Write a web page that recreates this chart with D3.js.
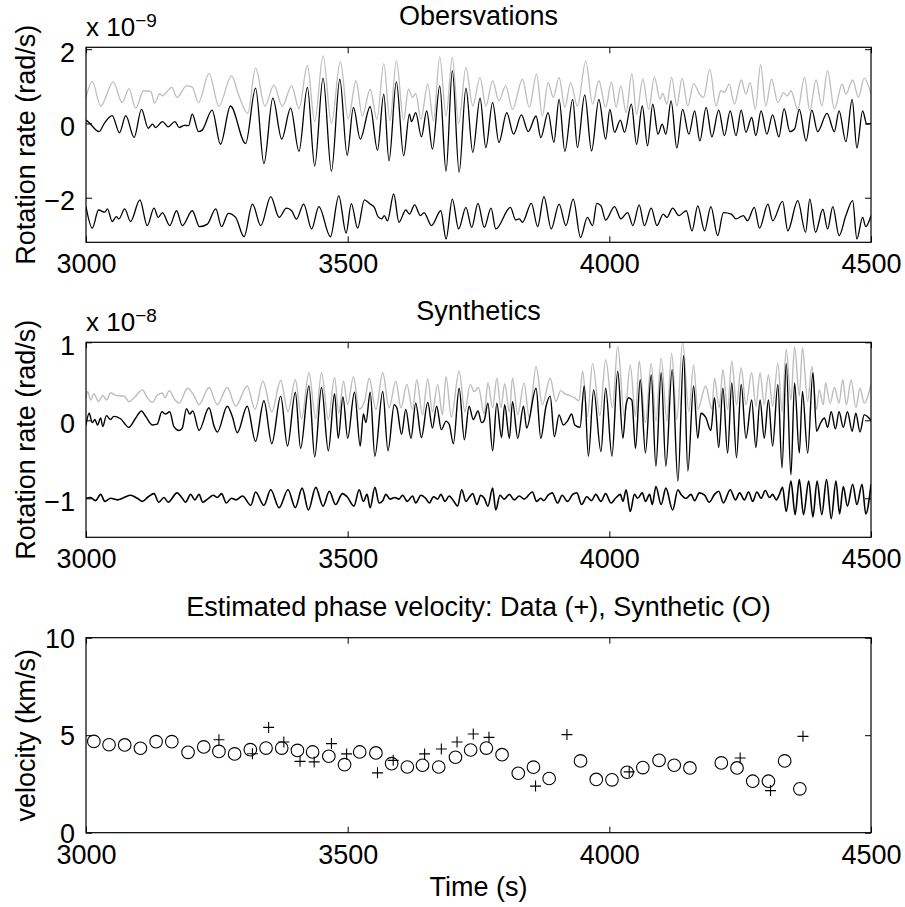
<!DOCTYPE html>
<html><head><meta charset="utf-8">
<script src="https://cdn.jsdelivr.net/npm/d3@7"></script>
<style>
html,body{margin:0;padding:0;background:#fff;}
text{font-family:"Liberation Sans",Arial,Helvetica,sans-serif;fill:#000;}
</style></head>
<body><svg id="chart" width="905" height="907"></svg>
<script>
// ---------- data (time in s, rotation rate in units of the axis multiplier) ----------
const xTicks = [3000, 3500, 4000, 4500];
const obsTicks = [-2, 0, 2];
const synTicks = [-1, 0, 1];
const velTicks = [0, 5, 10];
const titles = ["Obersvations", "Synthetics", "Estimated phase velocity: Data (+), Synthetic (O)"];

const obsGray = [[3000,0.70],[3012,1.13],[3028,0.47],[3052,1.12],[3069,0.56],[3082,0.94],[3095,0.41],[3110,0.88],[3124,0.86],[3131,0.55],[3141,0.80],[3146,0.74],[3151,0.80],[3164,0.97],[3174,0.70],[3192,1.01],[3203,0.98],[3215,0.56],[3235,1.34],[3254,0.47],[3278,1.28],[3292,0.75],[3309,0.27],[3324,1.49],[3342,0.47],[3359,1.03],[3375,0.47],[3393,1.01],[3407,0.40],[3423,1.56],[3437,0.05],[3453,1.82],[3469,0.00],[3486,1.67],[3501,0.12],[3516,1.15],[3528,0.20],[3543,0.92],[3556,0.11],[3569,1.61],[3581,0.07],[3593,1.69],[3607,0.09],[3616,0.92],[3624,0.70],[3630,0.81],[3640,0.11],[3653,1.06],[3664,0.07],[3676,1.79],[3688,0.20],[3700,1.78],[3712,0.00],[3726,1.51],[3739,0.47],[3753,1.24],[3764,0.47],[3777,1.15],[3789,0.61],[3802,1.01],[3815,0.38],[3834,1.19],[3847,0.43],[3861,1.33],[3872,0.20],[3883,1.10],[3893,0.70],[3904,1.24],[3915,0.43],[3926,1.10],[3939,0.47],[3955,1.67],[3968,0.52],[3980,1.15],[3993,0.43],[4004,1.12],[4013,0.43],[4022,1.01],[4032,0.29],[4043,1.34],[4052,0.25],[4064,1.19],[4075,0.38],[4086,1.24],[4097,0.65],[4102,0.81],[4110,0.52],[4119,1.24],[4129,0.47],[4139,1.22],[4150,0.47],[4161,1.07],[4172,0.80],[4180,0.70],[4192,1.46],[4204,0.47],[4213,0.88],[4220,0.84],[4229,1.06],[4239,0.52],[4252,1.17],[4261,0.79],[4269,1.10],[4279,0.38],[4289,1.58],[4299,0.47],[4310,1.19],[4322,0.56],[4333,0.83],[4340,0.74],[4347,0.88],[4360,0.38],[4373,1.24],[4383,0.34],[4395,1.17],[4406,0.47],[4417,1.42],[4430,0.38],[4445,1.06],[4452,0.79],[4465,1.17],[4476,0.70],[4487,1.22],[4500,0.79]];

const obsMid = [[3000,0.09],[3006,0.02],[3025,-0.22],[3035,0.00],[3050,0.21],[3064,-0.25],[3076,0.21],[3092,-0.38],[3106,0.38],[3119,-0.13],[3127,-0.02],[3133,-0.11],[3146,0.05],[3157,-0.09],[3170,0.05],[3178,-0.11],[3188,-0.05],[3196,-0.06],[3203,0.25],[3215,-0.22],[3222,-0.18],[3241,0.36],[3257,-0.56],[3276,0.47],[3305,-0.54],[3324,0.95],[3340,-1.08],[3357,0.68],[3374,-0.42],[3391,0.41],[3407,-0.75],[3423,0.97],[3437,-1.14],[3453,1.22],[3469,-1.29],[3485,1.19],[3499,-0.86],[3511,0.43],[3524,-0.42],[3543,0.45],[3557,-0.72],[3569,0.79],[3579,-1.01],[3593,1.12],[3607,-0.87],[3618,0.25],[3622,0.05],[3630,0.29],[3641,-0.36],[3651,0.34],[3662,-0.69],[3676,1.01],[3688,-1.29],[3700,1.42],[3713,-1.32],[3726,0.95],[3739,-0.78],[3753,0.68],[3764,-0.65],[3777,0.56],[3789,-0.51],[3804,0.29],[3817,-0.29],[3832,0.23],[3845,-0.22],[3860,0.20],[3869,-0.38],[3883,0.29],[3894,-0.51],[3904,0.65],[3915,-0.75],[3930,0.65],[3939,-0.65],[3953,0.77],[3966,-0.74],[3980,0.65],[3993,-0.42],[4001,0.38],[4010,-0.24],[4021,0.09],[4029,-0.24],[4042,0.52],[4052,-0.56],[4063,0.47],[4073,-0.60],[4083,0.52],[4093,-0.29],[4101,-0.02],[4108,-0.29],[4118,0.61],[4129,-0.66],[4140,0.38],[4152,-0.29],[4163,0.34],[4173,-0.47],[4185,0.43],[4196,-0.36],[4209,0.36],[4220,-0.33],[4231,0.34],[4242,-0.33],[4252,0.36],[4261,-0.24],[4272,0.16],[4280,-0.33],[4290,0.34],[4301,-0.29],[4312,0.23],[4324,-0.36],[4334,0.40],[4345,-0.22],[4354,-0.15],[4363,0.38],[4376,-0.47],[4387,0.36],[4398,-0.22],[4416,0.27],[4430,-0.22],[4439,0.34],[4452,-0.49],[4464,0.65],[4473,-0.66],[4484,0.34],[4492,-0.02],[4500,0.00]];

const obsLow = [[3000,-2.24],[3012,-2.82],[3024,-2.33],[3036,-2.39],[3041,-2.30],[3050,-2.64],[3058,-2.51],[3063,-2.57],[3074,-2.30],[3085,-2.64],[3103,-2.06],[3117,-2.75],[3130,-2.28],[3138,-2.53],[3146,-2.40],[3160,-2.75],[3173,-2.35],[3184,-2.75],[3203,-2.35],[3217,-2.78],[3232,-2.71],[3248,-2.30],[3259,-2.78],[3272,-2.42],[3286,-2.53],[3302,-3.05],[3318,-2.17],[3334,-2.75],[3353,-1.97],[3369,-2.53],[3383,-2.28],[3393,-2.35],[3402,-2.58],[3416,-2.17],[3431,-2.84],[3445,-2.24],[3467,-3.05],[3483,-1.95],[3497,-2.95],[3507,-2.16],[3519,-2.82],[3532,-2.06],[3543,-2.17],[3551,-2.26],[3558,-2.51],[3565,-2.57],[3570,-2.48],[3576,-2.62],[3588,-1.90],[3598,-2.66],[3611,-2.33],[3618,-2.44],[3628,-2.19],[3639,-2.48],[3646,-2.40],[3660,-2.75],[3678,-2.35],[3688,-3.11],[3700,-2.04],[3712,-2.84],[3726,-2.26],[3737,-2.80],[3749,-2.15],[3761,-2.80],[3774,-2.28],[3783,-2.84],[3811,-2.26],[3821,-2.60],[3828,-2.57],[3834,-2.66],[3851,-2.15],[3863,-2.78],[3875,-1.97],[3889,-2.84],[3904,-2.17],[3917,-2.75],[3931,-2.04],[3945,-3.07],[3958,-2.53],[3968,-2.75],[3976,-2.15],[3984,-2.22],[3993,-2.60],[4010,-2.24],[4022,-2.57],[4035,-2.40],[4045,-2.75],[4057,-2.19],[4067,-2.75],[4080,-2.28],[4091,-2.75],[4103,-2.44],[4110,-2.53],[4121,-2.28],[4133,-2.48],[4147,-2.35],[4158,-2.89],[4169,-2.22],[4182,-2.89],[4194,-2.24],[4207,-3.02],[4218,-2.40],[4233,-2.44],[4242,-2.57],[4256,-2.48],[4264,-2.62],[4277,-2.26],[4287,-2.82],[4303,-2.17],[4312,-2.62],[4331,-2.10],[4341,-2.89],[4360,-2.08],[4375,-2.93],[4383,-2.04],[4394,-2.93],[4408,-2.31],[4417,-2.84],[4427,-2.24],[4439,-3.02],[4452,-2.48],[4465,-2.08],[4473,-3.11],[4484,-2.53],[4490,-2.78],[4500,-2.48]];

const synGray = [[3000,0.29],[3003,0.37],[3009,0.26],[3015,0.34],[3024,0.24],[3032,0.32],[3039,0.26],[3047,0.35],[3057,0.32],[3073,0.31],[3082,0.24],[3092,0.29],[3108,0.39],[3117,0.29],[3127,0.23],[3136,0.32],[3146,0.35],[3151,0.29],[3159,0.38],[3170,0.26],[3178,0.22],[3194,0.41],[3206,0.32],[3216,0.20],[3235,0.42],[3251,0.20],[3270,0.42],[3286,0.18],[3308,0.44],[3323,0.14],[3338,0.50],[3355,0.11],[3372,0.51],[3386,0.11],[3400,0.52],[3412,0.02],[3426,0.61],[3439,0.02],[3450,0.61],[3463,0.01],[3475,0.55],[3483,0.09],[3492,0.50],[3500,0.20],[3511,0.56],[3522,0.14],[3533,0.26],[3541,0.54],[3554,0.14],[3567,0.61],[3579,0.16],[3592,0.50],[3602,0.16],[3613,0.46],[3624,0.14],[3632,0.52],[3643,0.07],[3653,0.53],[3662,0.11],[3672,0.46],[3681,0.07],[3688,0.56],[3698,0.04],[3713,0.63],[3724,0.11],[3734,0.46],[3742,0.37],[3750,0.42],[3761,0.08],[3768,0.48],[3777,0.16],[3785,0.54],[3793,0.16],[3800,0.47],[3809,0.11],[3815,0.54],[3825,0.07],[3837,0.48],[3847,0.03],[3860,0.69],[3872,0.20],[3887,0.54],[3898,0.24],[3907,0.38],[3915,0.34],[3923,0.32],[3933,0.29],[3942,0.25],[3949,0.63],[3958,0.05],[3968,0.73],[3982,0.06],[3993,0.78],[4006,0.16],[4016,0.95],[4029,0.03],[4040,0.71],[4050,0.05],[4057,0.76],[4069,-0.03],[4080,0.73],[4089,-0.01],[4099,0.80],[4110,-0.01],[4119,0.86],[4129,0.01],[4140,1.00],[4152,0.11],[4161,0.71],[4169,0.14],[4184,0.44],[4196,0.14],[4201,0.54],[4210,0.16],[4217,0.65],[4226,0.14],[4234,0.76],[4243,0.20],[4252,0.67],[4261,0.20],[4272,0.61],[4280,0.18],[4288,0.61],[4296,0.20],[4304,0.58],[4312,0.18],[4322,0.73],[4330,0.11],[4338,0.91],[4347,0.26],[4354,0.94],[4363,0.31],[4369,0.93],[4379,0.24],[4387,0.69],[4396,0.14],[4401,0.39],[4409,0.20],[4413,0.48],[4422,0.22],[4430,0.42],[4439,0.22],[4446,0.52],[4453,0.20],[4462,0.52],[4471,0.16],[4479,0.41],[4487,0.22],[4500,0.46]];

const synMid = [[3000,-0.06],[3006,0.09],[3012,-0.03],[3017,0.01],[3022,-0.06],[3028,0.03],[3032,-0.08],[3039,0.06],[3047,0.01],[3053,0.05],[3066,0.02],[3082,-0.09],[3095,0.03],[3106,0.12],[3114,0.05],[3127,-0.06],[3136,-0.05],[3145,0.11],[3152,0.08],[3160,0.11],[3168,-0.08],[3178,-0.13],[3184,-0.10],[3192,0.15],[3198,0.08],[3204,0.12],[3216,-0.13],[3235,0.16],[3245,-0.08],[3251,-0.15],[3270,0.18],[3280,0.04],[3289,-0.16],[3308,0.18],[3324,-0.27],[3340,0.25],[3355,-0.30],[3372,0.31],[3385,-0.33],[3400,0.36],[3410,-0.36],[3426,0.44],[3437,-0.47],[3450,0.42],[3463,-0.39],[3475,0.34],[3482,-0.23],[3491,0.30],[3500,-0.23],[3513,0.36],[3524,-0.33],[3530,0.08],[3535,-0.03],[3543,0.36],[3552,-0.46],[3567,0.37],[3577,-0.39],[3589,0.20],[3594,0.16],[3603,-0.18],[3611,0.14],[3621,-0.23],[3630,0.22],[3641,-0.22],[3653,0.23],[3662,-0.10],[3670,0.18],[3679,-0.12],[3688,-0.01],[3694,-0.05],[3702,-0.30],[3713,0.41],[3723,-0.25],[3732,0.18],[3740,0.01],[3749,0.12],[3756,-0.03],[3761,0.00],[3768,0.22],[3777,-0.39],[3785,0.22],[3794,-0.22],[3800,0.20],[3809,-0.23],[3815,0.24],[3825,-0.23],[3836,0.18],[3842,-0.10],[3860,0.41],[3869,-0.23],[3879,0.18],[3887,0.31],[3895,-0.21],[3904,0.07],[3912,-0.06],[3920,-0.01],[3928,0.08],[3934,-0.06],[3944,-0.09],[3952,0.44],[3960,-0.46],[3970,0.39],[3984,-0.40],[3993,0.41],[4005,-0.46],[4016,0.63],[4026,-0.23],[4032,0.20],[4037,0.29],[4043,0.26],[4050,-0.36],[4059,0.52],[4069,-0.42],[4080,0.58],[4089,-0.59],[4099,0.61],[4108,-0.59],[4120,0.65],[4131,-0.78],[4142,0.83],[4150,-0.65],[4161,0.44],[4169,-0.23],[4175,0.09],[4184,0.04],[4194,-0.13],[4201,0.29],[4209,-0.35],[4217,0.41],[4226,-0.42],[4234,0.48],[4243,-0.48],[4252,0.46],[4261,-0.23],[4272,0.26],[4280,-0.35],[4288,0.26],[4296,-0.23],[4304,0.26],[4312,-0.33],[4322,0.46],[4330,-0.61],[4338,0.73],[4347,-0.70],[4354,0.48],[4363,-0.42],[4369,0.37],[4379,-0.42],[4389,0.61],[4396,-0.14],[4404,-0.03],[4411,0.03],[4417,-0.09],[4424,0.11],[4432,-0.11],[4439,0.11],[4447,-0.09],[4455,0.11],[4464,-0.14],[4471,0.09],[4479,-0.15],[4487,0.07],[4500,0.00]];

const synLow = [[3000,-1.00],[3009,-0.99],[3018,-1.03],[3028,-0.95],[3036,-1.04],[3047,-1.00],[3060,-1.02],[3073,-0.99],[3085,-0.96],[3098,-1.00],[3108,-1.04],[3119,-0.98],[3130,-0.94],[3139,-1.05],[3149,-0.99],[3157,-1.05],[3174,-0.93],[3184,-1.00],[3190,-1.05],[3200,-0.95],[3208,-1.02],[3216,-0.95],[3223,-1.05],[3234,-1.00],[3243,-0.96],[3251,-0.99],[3259,-0.94],[3268,-1.06],[3278,-1.00],[3287,-1.02],[3299,-0.97],[3315,-1.09],[3324,-0.92],[3340,-1.09],[3353,-0.89],[3369,-1.12],[3386,-0.89],[3400,-1.12],[3413,-0.87],[3425,-1.15],[3439,-0.86],[3453,-1.10],[3465,-0.91],[3477,-1.08],[3490,-0.94],[3499,-0.98],[3512,-1.10],[3522,-0.89],[3530,-1.04],[3537,-0.95],[3543,-1.12],[3552,-0.86],[3560,-1.06],[3567,-1.03],[3573,-0.95],[3581,-1.01],[3590,-0.99],[3598,-1.01],[3605,-0.96],[3614,-1.04],[3624,-0.97],[3630,-1.06],[3640,-0.96],[3649,-1.00],[3656,-1.06],[3664,-0.98],[3672,-1.01],[3678,-0.95],[3686,-1.04],[3694,-0.97],[3702,-1.03],[3710,-1.10],[3718,-0.89],[3726,-1.04],[3732,-0.99],[3739,-0.94],[3747,-1.08],[3754,-0.96],[3761,-1.00],[3768,-1.10],[3777,-0.87],[3783,-1.15],[3791,-0.96],[3799,-1.01],[3809,-0.95],[3818,-1.02],[3828,-0.97],[3837,-1.01],[3853,-0.92],[3861,-1.04],[3869,-1.00],[3875,-1.03],[3883,-0.96],[3891,-0.93],[3901,-1.06],[3910,-0.96],[3920,-1.04],[3930,-0.95],[3938,-0.93],[3947,-1.08],[3957,-0.98],[3966,-1.03],[3974,-0.95],[3984,-1.04],[3993,-0.94],[4003,-1.06],[4013,-0.99],[4021,-0.95],[4026,-1.04],[4032,-0.89],[4040,-1.17],[4048,-0.95],[4054,-1.00],[4063,-0.93],[4069,-1.04],[4077,-0.95],[4082,-1.08],[4089,-0.85],[4099,-1.08],[4108,-0.87],[4121,-1.15],[4131,-0.89],[4137,-0.95],[4147,-1.00],[4156,-0.95],[4163,-1.03],[4172,-0.93],[4182,-0.96],[4191,-1.05],[4201,-0.95],[4209,-0.91],[4218,-1.06],[4231,-0.89],[4241,-1.02],[4249,-0.93],[4258,-1.02],[4266,-0.92],[4274,-1.04],[4282,-0.92],[4290,-1.00],[4298,-0.90],[4306,-0.99],[4312,-0.95],[4319,-1.02],[4325,-0.95],[4331,-0.86],[4338,-1.17],[4347,-0.78],[4355,-1.21],[4363,-0.76],[4371,-1.21],[4381,-0.78],[4389,-1.24],[4397,-0.78],[4406,-1.21],[4415,-0.76],[4424,-1.26],[4433,-0.78],[4440,-1.20],[4447,-0.85],[4455,-1.10],[4465,-0.82],[4473,-1.08],[4483,-0.82],[4490,-1.20],[4500,-0.82]];

// phase velocity (km/s)
const velSynthetic = [[3015,4.68],[3044,4.51],[3074,4.50],[3104,4.33],[3134,4.67],[3164,4.67],[3195,4.12],[3225,4.40],[3254,4.17],[3284,4.04],[3314,4.26],[3344,4.34],[3374,4.34],[3404,4.22],[3433,4.14],[3464,3.92],[3494,3.49],[3523,4.14],[3554,4.09],[3584,3.54],[3614,3.37],[3643,3.46],[3674,3.37],[3706,3.87],[3735,4.24],[3765,4.34],[3795,4.00],[3826,3.05],[3855,3.36],[3885,2.78],[3945,3.68],[3975,2.73],[4005,2.71],[4034,3.10],[4064,3.34],[4095,3.71],[4124,3.46],[4154,3.32],[4214,3.58],[4244,3.32],[4274,2.64],[4304,2.64],[4335,3.68],[4364,2.25]];
const velData = [[3254,4.77],[3318,4.05],[3349,5.40],[3378,4.65],[3409,3.66],[3436,3.63],[3469,4.57],[3498,4.04],[3557,3.07],[3587,3.71],[3647,4.04],[3679,4.29],[3709,4.65],[3740,5.06],[3770,4.89],[3859,2.39],[3919,5.03],[4038,3.12],[4250,3.83],[4308,2.16],[4370,4.94]];

// ---------- layout ----------
const svg = d3.select("#chart");
const left = 86, right = 871, ph = 195;
const tops = [47.3, 342.3, 637.7];
const FS = 27;
const x = d3.scaleLinear().domain([3000, 4500]).range([left, right]);
const yDomains = [[-3.2, 2.05], [-1.5, 1], [0, 10]];
const yTickSets = [obsTicks, synTicks, velTicks];
const ySc = yDomains.map((d, i) => d3.scaleLinear().domain(d).range([tops[i] + ph, tops[i]]));
const fmt = d => (d < 0 ? "\u2212" + Math.abs(d) : String(d));

function drawFrame(i) {
  const y = ySc[i], top = tops[i], bot = top + ph;
  const g = svg.append("g");
  g.append("g").attr("transform", `translate(0,${bot})`)
    .call(d3.axisBottom(x).tickValues(xTicks).tickSizeInner(-6).tickSizeOuter(0).tickPadding(12).tickFormat(fmt));
  g.append("g").attr("transform", `translate(0,${top})`)
    .call(d3.axisTop(x).tickValues(xTicks).tickSizeInner(-6).tickSizeOuter(0).tickFormat(""));
  const gy = g.append("g").attr("transform", `translate(${left},0)`)
    .call(d3.axisLeft(y).tickValues(yTickSets[i]).tickSizeInner(-6).tickSizeOuter(0).tickPadding(11).tickFormat(fmt));
  g.append("g").attr("transform", `translate(${right},0)`)
    .call(d3.axisRight(y).tickValues(yTickSets[i]).tickSizeInner(-6).tickSizeOuter(0).tickFormat(""));
  g.selectAll(".domain").remove();
  g.selectAll(".tick line").attr("stroke", "#000").attr("stroke-width", 1);
  g.selectAll(".tick text").attr("font-size", FS).attr("font-family", "Liberation Sans, Arial, sans-serif").attr("fill", "#000");
  gy.selectAll(".tick text").attr("dy", i === 2 ? "0.36em" : "0.45em");
  g.append("rect").attr("x", left).attr("y", top).attr("width", right - left).attr("height", ph)
    .attr("fill", "none").attr("stroke", "#000").attr("stroke-width", 1.2);
  svg.append("text").attr("x", (left + right) / 2).attr("y", top - 22).attr("text-anchor", "middle")
    .attr("font-size", FS).text(titles[i]);
}

function clip(i) {
  const id = "clip" + i;
  svg.append("clipPath").attr("id", id).append("rect")
    .attr("x", left).attr("y", tops[i]).attr("width", right - left).attr("height", ph);
  return `url(#${id})`;
}

function drawTraces(i, series) {
  const y = ySc[i];
  const line = d3.line().x(d => x(d[0])).y(d => y(d[1])).curve(d3.curveMonotoneX);
  const g = svg.append("g").attr("clip-path", clip(i));
  series.forEach(s => {
    g.append("path").datum(s.data).attr("d", line).attr("fill", "none")
      .attr("stroke", s.color).attr("stroke-width", s.w).attr("stroke-linejoin", "round");
  });
}

function multiplier(i, exp) {
  const t = svg.append("text").attr("x", left).attr("y", tops[i] - 11).attr("font-size", FS - 1);
  t.append("tspan").text("x 10");
  t.append("tspan").attr("font-size", 19).attr("dy", -9).text(exp);
}

drawTraces(0, [
  {data: obsGray, color: "#bdbdbd", w: 1.3},
  {data: obsMid, color: "#000", w: 1.3},
  {data: obsLow, color: "#000", w: 1.3}
]);
drawFrame(0);
multiplier(0, "\u22129");

drawTraces(1, [
  {data: synGray, color: "#bdbdbd", w: 1.4},
  {data: synMid, color: "#000", w: 1.4},
  {data: synLow, color: "#000", w: 1.6}
]);
drawFrame(1);
multiplier(1, "\u22128");

drawFrame(2);
const y3 = ySc[2];
svg.append("g").selectAll("circle").data(velSynthetic).join("circle")
  .attr("cx", d => x(d[0])).attr("cy", d => y3(d[1])).attr("r", 6.3)
  .attr("fill", "none").attr("stroke", "#000").attr("stroke-width", 1.1);
svg.append("g").selectAll("path").data(velData).join("path")
  .attr("transform", d => `translate(${x(d[0])},${y3(d[1])})`)
  .attr("d", "M-5.5,0H5.5M0,-5.5V5.5").attr("stroke", "#000").attr("stroke-width", 1.1).attr("fill", "none");

// axis labels
function ylabel(i, txt) {
  const cy = tops[i] + ph / 2;
  svg.append("text").attr("transform", `translate(35,${cy}) rotate(-90)`).attr("text-anchor", "middle")
    .attr("font-size", FS).text(txt);
}
ylabel(0, "Rotation rate (rad/s)");
ylabel(1, "Rotation rate (rad/s)");
ylabel(2, "velocity (km/s)");
svg.append("text").attr("x", (left + right) / 2).attr("y", 896).attr("text-anchor", "middle")
  .attr("font-size", FS).text("Time (s)");
</script></body></html>
